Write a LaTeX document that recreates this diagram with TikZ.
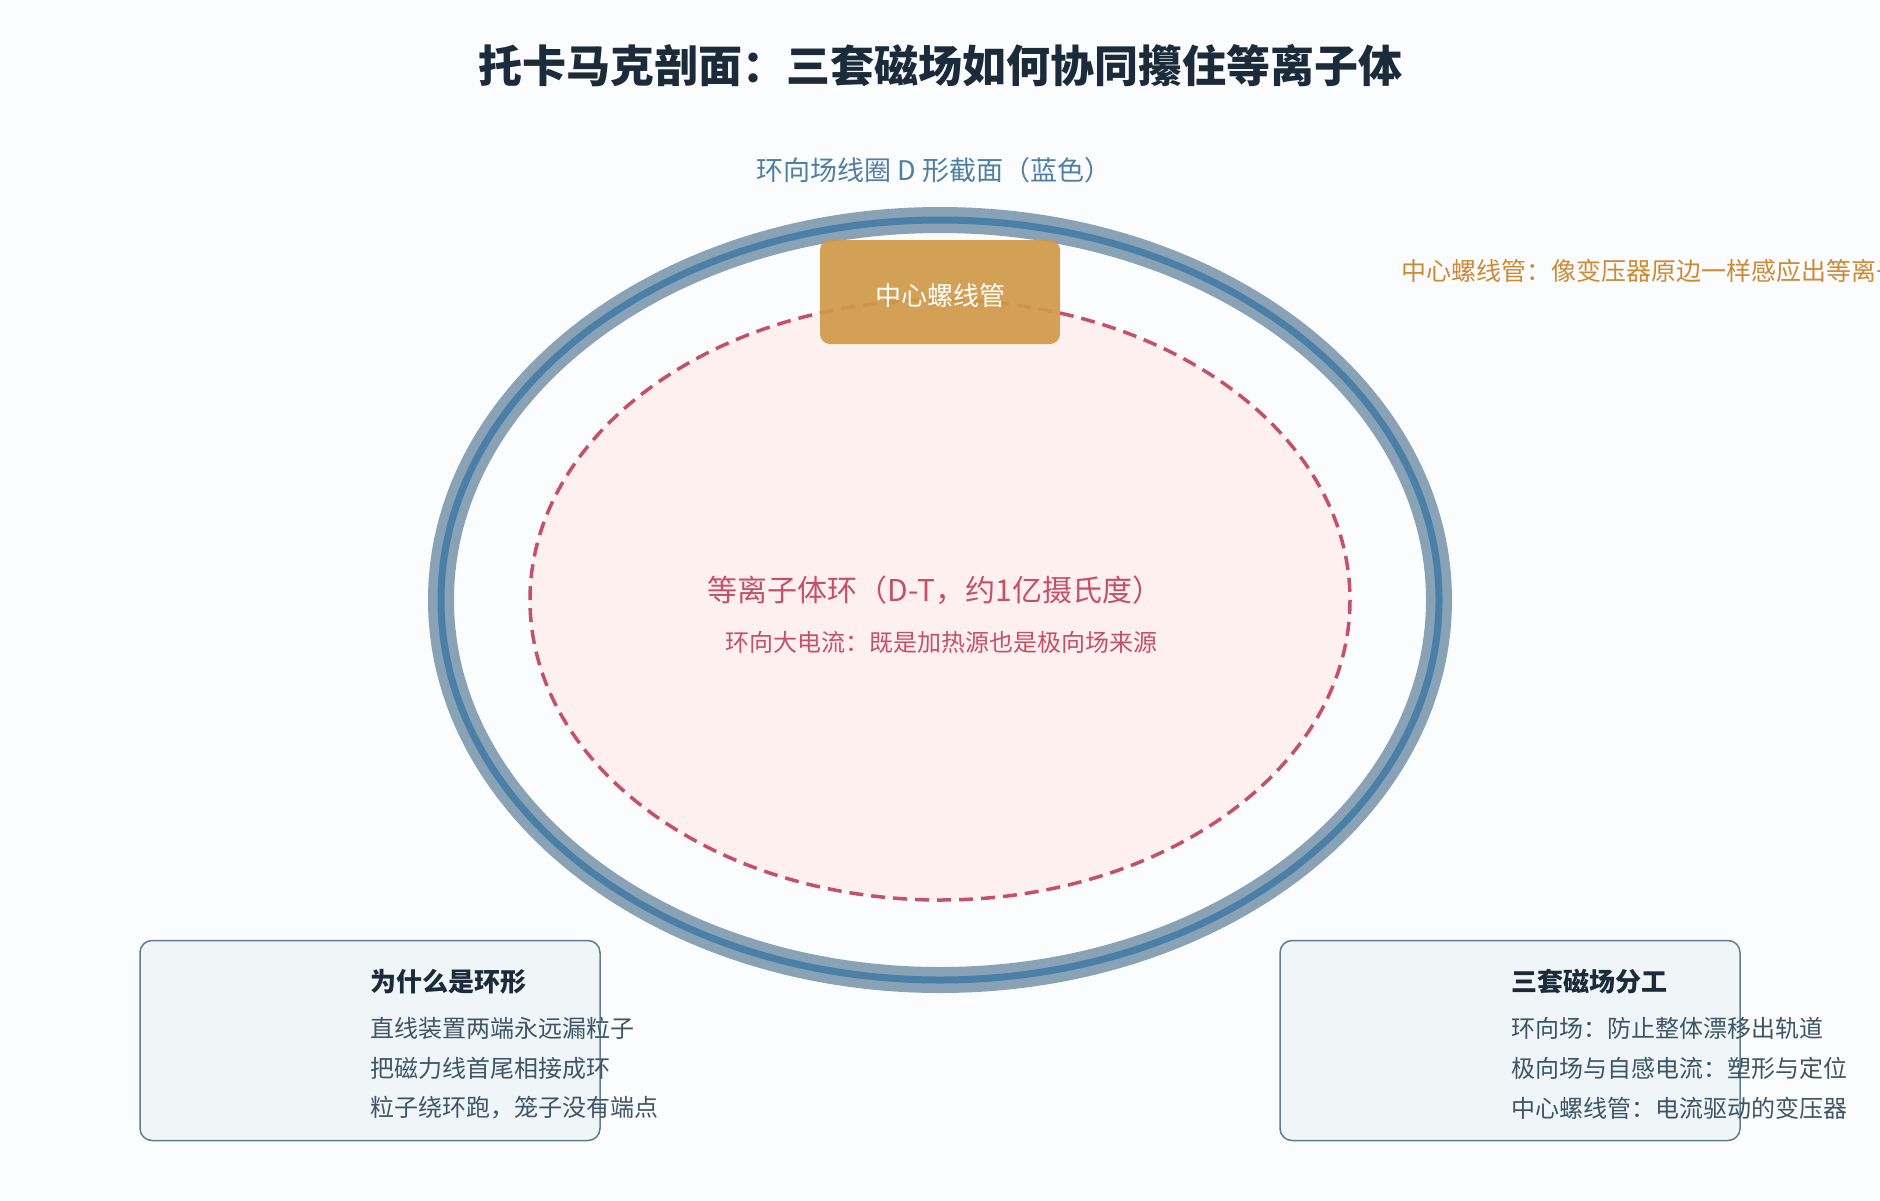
\documentclass[tikz,border=0pt]{standalone}
\usepackage{fontspec}
\setmainfont{Noto Sans CJK SC}
\usetikzlibrary{positioning}
\definecolor{bgWhite}{HTML}{FBFCFE}
\definecolor{titleInk}{HTML}{1C2B3A}
\definecolor{coilBlue}{HTML}{4A7FA8}
\definecolor{coilGrey}{HTML}{8AA2B5}
\definecolor{labelBlue}{HTML}{4F7FA3}
\definecolor{plasmaRed}{HTML}{C4506A}
\definecolor{plasmaFill}{HTML}{FFF0F0}
\definecolor{csGold}{HTML}{D09A48}
\definecolor{csText}{HTML}{CC8A35}
\definecolor{boxFill}{HTML}{F0F5F8}
\definecolor{boxEdge}{HTML}{5E7D90}
\definecolor{bodyInk}{HTML}{3F5566}
\newcommand{\fsz}[1]{\fontsize{#1}{#1}\selectfont}
\tikzset{coil/.style={draw, coilGrey, line width=26pt}}
\tikzset{coilcore/.style={draw, coilBlue, line width=7pt}}
\tikzset{plasma/.style={draw=plasmaRed, fill=plasmaFill, line width=3.5pt,
  dash pattern=on 14pt off 8pt}}
\tikzset{cs/.style={fill=csGold, fill opacity=.92, text opacity=1,
  rounded corners=10pt, text=white, minimum width=240pt,
  minimum height=104pt, font=\fsz{26}}}
\tikzset{info/.style={draw=boxEdge, fill=boxFill, line width=1.5pt,
  rounded corners=12pt, minimum width=460pt, minimum height=200pt}}
\tikzset{hd/.style={anchor=west, inner sep=0pt, text=titleInk,
  font=\bfseries\fsz{26}}}
\tikzset{txt/.style={anchor=west, inner sep=0pt, text=bodyInk, font=\fsz{24}}}

\begin{document}
\begin{tikzpicture}[x=1pt,y=-1pt]
        \useasboundingbox (0,0) rectangle (1880,1200);
        \fill[bgWhite] (0,0) rectangle (1880,1200);
        \node (title) at (940,66) [text=titleInk, font=\bfseries\fsz{44}]
            {托卡马克剖面：三套磁场如何协同攥住等离子体};
        %% TF coil cross-section
        \draw [coil] (940,600) ellipse [x radius=499, y radius=380];
        \draw [coilcore] (940,600) ellipse [x radius=499, y radius=380];
        \node (tf) at (934,170) [text=labelBlue, font=\fsz{27}]
            {环向场线圈 D 形截面（蓝色）};
        %% plasma ring
        \draw [plasma] (940,600) ellipse [x radius=410, y radius=300];
        \node (ring) at (935,590) [text=plasmaRed, font=\fsz{30}]
            {等离子体环（D-T，约1亿摄氏度）};
        \node (ip) at (941,642) [text=plasmaRed, font=\fsz{24}]
            {环向大电流：既是加热源也是极向场来源};
        %% central solenoid
        \node (cs) at (940,292) [cs] {};
        \node (cslabel) at (940,296) [text=white, font=\fsz{26}] {中心螺线管};
        \node (csnote) at (1401,271) [anchor=west, inner sep=0pt, text=csText,
            font=\fsz{25}] {中心螺线管：像变压器原边一样感应出等离子体电流};
        %% why a ring
        \node (lbox) at (370,1040.5) [info] {};
        \node (lh) at (370,982) [hd] {为什么是环形};
        \node (l1) at (370,1028) [txt] {直线装置两端永远漏粒子};
        \node (l2) at (370,1068) [txt] {把磁力线首尾相接成环};
        \node (l3) at (370,1108) [txt] {粒子绕环跑，笼子没有端点};
        %% three fields
        \node (rbox) at (1510,1040.5) [info] {};
        \node (rh) at (1511,982) [hd] {三套磁场分工};
        \node (r1) at (1511,1028) [txt] {环向场：防止整体漂移出轨道};
        \node (r2) at (1511,1068) [txt] {极向场与自感电流：塑形与定位};
        \node (r3) at (1511,1108) [txt] {中心螺线管：电流驱动的变压器};
\end{tikzpicture}
\end{document}
